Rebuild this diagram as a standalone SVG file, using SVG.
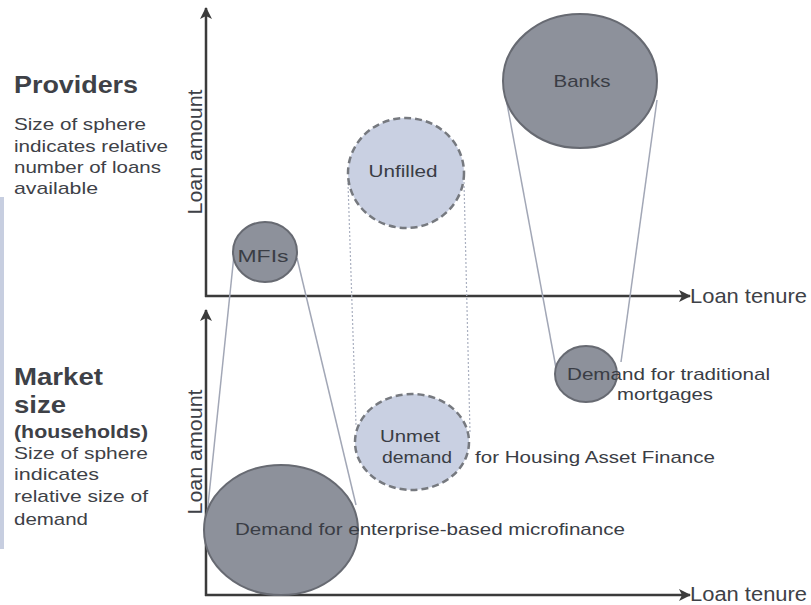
<svg xmlns="http://www.w3.org/2000/svg" width="811" height="605" viewBox="0 0 811 605">
<style>
text{font-family:"Liberation Sans",Arial,sans-serif;fill:#3e4147}
.b{font-weight:bold}
.t{font-size:17px}
.lab{font-size:17px;fill:#3a3d45}
.dark{fill:#8d919b;stroke:#676a72;stroke-width:2}
.light{fill:#c9d0e2;stroke:#76797f;stroke-width:2.5;stroke-dasharray:7 4}
.axis{stroke:#3b3b3b;stroke-width:2.5;fill:none}
.con{stroke:#a2a7b6;stroke-width:1.5;fill:none}
.dot{stroke:#aab0c0;stroke-width:1.2;stroke-dasharray:2 2;fill:none}
</style>
<defs>
<marker id="arr" viewBox="0 0 12 12" refX="11" refY="6" markerWidth="12" markerHeight="12" markerUnits="userSpaceOnUse" orient="auto"><path d="M0,0 L12,6 L0,12 L3,6 z" fill="#3b3b3b"/></marker>
</defs>
<rect x="0" y="197" width="4" height="352" fill="#c7cee0"/>

<g id="axes">
<line class="axis" x1="206" y1="297" x2="206" y2="8" marker-end="url(#arr)"/>
<line class="axis" x1="205" y1="296" x2="690" y2="296" marker-end="url(#arr)"/>
<line class="axis" x1="206" y1="596" x2="206" y2="310" marker-end="url(#arr)"/>
<line class="axis" x1="205" y1="595" x2="690" y2="595" marker-end="url(#arr)"/>
<text x="690" y="303" font-size="21" textLength="117" lengthAdjust="spacingAndGlyphs">Loan tenure</text>
<text x="690" y="601" font-size="20" textLength="117" lengthAdjust="spacingAndGlyphs">Loan tenure</text>
<text transform="translate(202,152) rotate(-90)" text-anchor="middle" font-size="20" textLength="125" lengthAdjust="spacingAndGlyphs">Loan amount</text>
<text transform="translate(202,452) rotate(-90)" text-anchor="middle" font-size="20" textLength="125" lengthAdjust="spacingAndGlyphs">Loan amount</text>
</g>

<g id="legend-providers">
<text class="b" x="14" y="93" font-size="23" textLength="124" lengthAdjust="spacingAndGlyphs">Providers</text>
<text class="t" x="14" y="130" textLength="132" lengthAdjust="spacingAndGlyphs">Size of sphere</text>
<text class="t" x="14" y="152" textLength="154" lengthAdjust="spacingAndGlyphs">indicates relative</text>
<text class="t" x="14" y="173" textLength="147" lengthAdjust="spacingAndGlyphs">number of loans</text>
<text class="t" x="14" y="194" textLength="84" lengthAdjust="spacingAndGlyphs">available</text>
</g>

<g id="legend-market">
<text class="b" x="14" y="385" font-size="23" textLength="89" lengthAdjust="spacingAndGlyphs">Market</text>
<text class="b" x="14" y="413" font-size="23" textLength="52" lengthAdjust="spacingAndGlyphs">size</text>
<text class="b" x="14" y="438" font-size="18" textLength="134" lengthAdjust="spacingAndGlyphs">(households)</text>
<text class="t" x="14" y="459" textLength="134" lengthAdjust="spacingAndGlyphs">Size of sphere</text>
<text class="t" x="14" y="480" textLength="85" lengthAdjust="spacingAndGlyphs">indicates</text>
<text class="t" x="14" y="502" textLength="134" lengthAdjust="spacingAndGlyphs">relative size of</text>
<text class="t" x="14" y="525" textLength="74" lengthAdjust="spacingAndGlyphs">demand</text>
</g>

<g id="connectors">
<line class="con" x1="234" y1="255" x2="207" y2="515"/>
<line class="con" x1="297" y1="258" x2="356" y2="505"/>
<line class="dot" x1="348" y1="183" x2="356" y2="425"/>
<line class="dot" x1="464" y1="182" x2="470" y2="433"/>
<line class="con" x1="506" y1="98" x2="556" y2="368"/>
<line class="con" x1="657" y1="100" x2="621" y2="362"/>
</g>

<g id="mfis">
<ellipse class="dark" cx="265" cy="252" rx="32" ry="30"/>
<text class="lab" x="263" y="262" text-anchor="middle" font-size="19" textLength="51" lengthAdjust="spacingAndGlyphs">MFIs</text>
</g>
<g id="unfilled">
<ellipse class="light" cx="406" cy="173" rx="58" ry="55"/>
<text class="lab" x="403" y="177" text-anchor="middle" textLength="69" lengthAdjust="spacingAndGlyphs">Unfilled</text>
</g>
<g id="banks">
<ellipse class="dark" cx="580" cy="81" rx="77" ry="67"/>
<text class="lab" x="582" y="87" text-anchor="middle" textLength="57" lengthAdjust="spacingAndGlyphs">Banks</text>
</g>
<g id="mortgages">
<ellipse class="dark" cx="586" cy="374" rx="31" ry="28"/>
<text class="lab" x="567" y="380" textLength="203" lengthAdjust="spacingAndGlyphs">Demand for traditional</text>
<text class="lab" x="617" y="400" textLength="96" lengthAdjust="spacingAndGlyphs">mortgages</text>
</g>
<g id="unmet">
<ellipse class="light" cx="412" cy="442" rx="57" ry="48"/>
<text class="lab" x="380" y="442" textLength="60" lengthAdjust="spacingAndGlyphs">Unmet</text>
<text class="lab" x="382" y="463" textLength="70" lengthAdjust="spacingAndGlyphs">demand</text>
<text class="lab" x="475" y="463" textLength="240" lengthAdjust="spacingAndGlyphs">for Housing Asset Finance</text>
</g>
<g id="enterprise">
<ellipse class="dark" cx="281" cy="530" rx="77" ry="65"/>
<text class="lab" x="235" y="535" textLength="390" lengthAdjust="spacingAndGlyphs">Demand for enterprise-based microfinance</text>
</g>
</svg>
